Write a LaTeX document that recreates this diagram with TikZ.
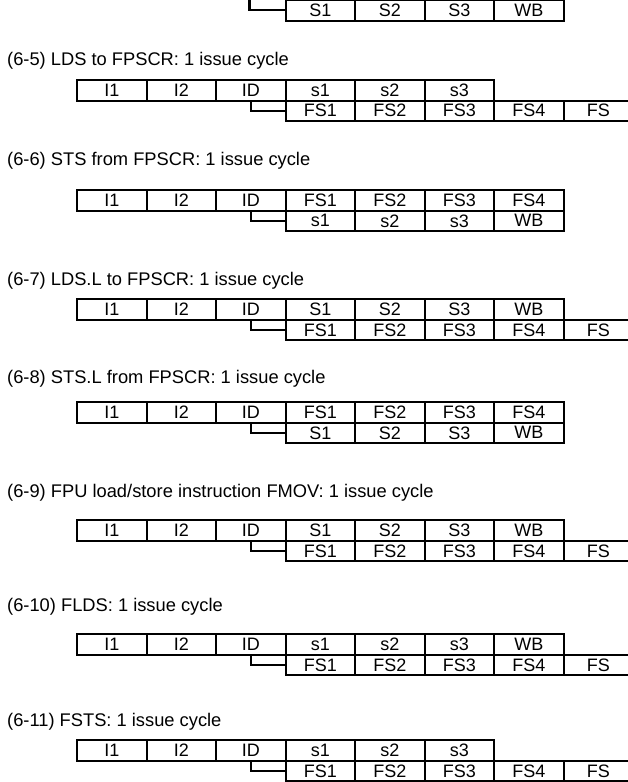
\documentclass[tikz,border=0pt]{standalone}
\usepackage{fontspec}
\setmainfont{Liberation Sans}
\tikzset{
  cell/.style={draw, line width=2.1pt, minimum width=69.5pt, minimum height=20.5pt,
    inner sep=0pt, anchor=north west, font=\fontsize{18}{20}\selectfont},
  conn/.style={draw, line width=2.1pt},
  title/.style={anchor=west, inner sep=0pt, font=\fontsize{18.3}{20}\selectfont}
}
\newcommand{\pipeblk}[4]{%
  \foreach \lab [count=\i from 0] in {#3} {\node[cell] (#1a\i) at ({76+69.5*\i}, #2) {\lab};}
  \foreach \lab [count=\i from 3] in {#4} {\node[cell] (#1b\i) at ({76+69.5*\i}, #2+20.5) {\lab};}
  \draw[conn] (#1a2.south) |- (#1b3.west);
}
\begin{document}
\begin{tikzpicture}[x=1pt, y=-1pt]
\useasboundingbox (0,0) rectangle (628,782);
\fill[white] (0,0) rectangle (628,782);
\clip (0,0) rectangle (628,782);
% partial block at top
\foreach \lab [count=\i from 3] in {S1,S2,S3,WB} {\node[cell] (pzb\i) at ({76+69.5*\i}, -1) {\lab};}
\coordinate (pzid) at (249.5,-2);
\draw[conn] (pzid) |- (pzb3.west);
% (6-5)
\node[title] (t5) at (7,61) {(6-5) LDS to FPSCR: 1 issue cycle};
\pipeblk{pf}{79}{I1,I2,ID,s1,s2,s3}{FS1,FS2,FS3,FS4,FS}
% (6-6)
\node[title] (t6) at (7,161) {(6-6) STS from FPSCR: 1 issue cycle};
\pipeblk{pg}{189}{I1,I2,ID,FS1,FS2,FS3,FS4}{s1,s2,s3,WB}
% (6-7)
\node[title] (t7) at (7,281) {(6-7) LDS.L to FPSCR: 1 issue cycle};
\pipeblk{ph}{298}{I1,I2,ID,S1,S2,S3,WB}{FS1,FS2,FS3,FS4,FS}
% (6-8)
\node[title] (t8) at (7,379) {(6-8) STS.L from FPSCR: 1 issue cycle};
\pipeblk{pi}{401}{I1,I2,ID,FS1,FS2,FS3,FS4}{S1,S2,S3,WB}
% (6-9)
\node[title] (t9) at (7,493) {(6-9) FPU load/store instruction FMOV: 1 issue cycle};
\pipeblk{pj}{519}{I1,I2,ID,S1,S2,S3,WB}{FS1,FS2,FS3,FS4,FS}
% (6-10)
\node[title] (t10) at (7,607) {(6-10) FLDS: 1 issue cycle};
\pipeblk{pk}{633}{I1,I2,ID,s1,s2,s3,WB}{FS1,FS2,FS3,FS4,FS}
% (6-11)
\node[title] (t11) at (7,722) {(6-11) FSTS: 1 issue cycle};
\pipeblk{pl}{739}{I1,I2,ID,s1,s2,s3}{FS1,FS2,FS3,FS4,FS}
\end{tikzpicture}
\end{document}
